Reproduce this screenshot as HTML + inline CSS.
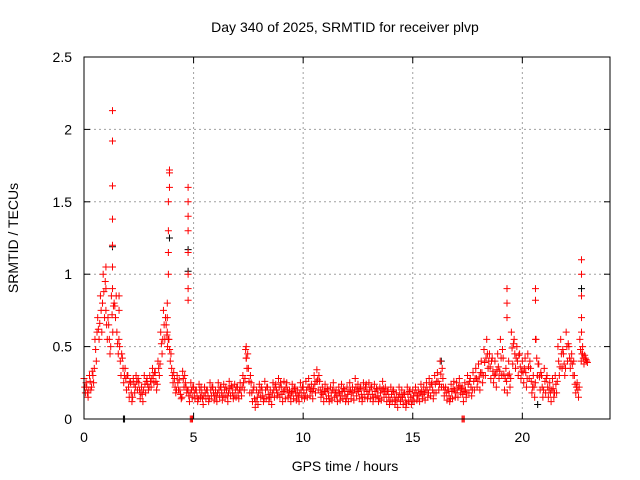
<!DOCTYPE html>
<html><head><meta charset="utf-8"><style>
body{margin:0;background:#fff}
svg{display:block;font-family:"Liberation Sans",sans-serif}
</style></head><body>
<svg id="chart" width="640" height="480">
<text x="345" y="32" font-size="14" text-anchor="middle">Day 340 of 2025, SRMTID for receiver plvp</text>
<text x="345" y="471" font-size="14" text-anchor="middle">GPS time / hours</text>
<text transform="translate(18,238) rotate(-90)" font-size="14" text-anchor="middle">SRMTID / TECUs</text>
<g id="grid"></g><g id="ticks"></g><g id="black"></g><g id="red"></g>
<rect x="84" y="57" width="526" height="362" fill="none" stroke="#000" stroke-width="1"/>
</svg>
<script>
const xTicks=[0,5,10,15,20];
const yTicks=[0,0.5,1,1.5,2,2.5];
const yTickLabels=["0","0.5","1","1.5","2","2.5"];
const step=0.125;
const seriesA=[0.28,0.22,0.30,0.33,0.55,0.70,0.85,1.00,
0.75,0.65,0.85,0.80,0.60,0.50,0.42,0.35,
0.30,0.25,0.28,0.30,0.25,0.22,0.30,0.28,
0.30,0.35,0.32,0.40,0.60,0.75,0.65,0.55,
0.35,0.28,0.30,0.20,0.33,0.25,0.20,0.25,
0.22,0.20,0.24,0.18,0.22,0.20,0.25,0.22,
0.20,0.25,0.22,0.24,0.20,0.26,0.22,0.24,
0.22,0.25,0.30,0.48,0.35,0.25,0.22,0.20,
0.24,0.20,0.26,0.22,0.20,0.25,0.24,0.28,
0.22,0.26,0.25,0.20,0.24,0.22,0.20,0.25,
0.22,0.26,0.28,0.24,0.30,0.34,0.26,0.22,
0.24,0.20,0.22,0.25,0.20,0.22,0.24,0.20,
0.22,0.25,0.22,0.28,0.24,0.22,0.25,0.24,
0.25,0.22,0.24,0.20,0.22,0.26,0.22,0.20,
0.22,0.20,0.18,0.22,0.20,0.18,0.22,0.20,
0.20,0.22,0.20,0.24,0.22,0.25,0.28,0.25,
0.30,0.32,0.40,0.28,0.22,0.20,0.24,0.26,
0.25,0.28,0.22,0.25,0.30,0.28,0.32,0.35,
0.38,0.40,0.48,0.55,0.45,0.42,0.40,0.45,
0.55,0.42,0.35,0.40,0.60,0.55,0.50,0.45,
0.40,0.42,0.45,0.35,0.30,0.55,0.38,0.30,
0.35,0.30,0.25,0.28,0.30,0.50,0.55,0.45,
0.60,0.50,0.45,0.30,0.25,0.55,0.45,0.42];
const seriesB=[0.18,0.15,0.20,0.25,0.40,0.55,0.60,0.70,
0.55,0.45,0.60,0.70,0.45,0.30,0.25,0.20,
0.15,0.12,0.18,0.20,0.14,0.12,0.18,0.20,
0.22,0.25,0.20,0.30,0.45,0.55,0.50,0.40,
0.25,0.18,0.20,0.14,0.22,0.18,0.12,0.15,
0.14,0.12,0.15,0.10,0.14,0.12,0.16,0.13,
0.12,0.15,0.13,0.15,0.12,0.16,0.14,0.15,
0.14,0.16,0.20,0.35,0.18,0.12,0.08,0.10,
0.15,0.12,0.14,0.12,0.10,0.15,0.16,0.15,
0.12,0.14,0.15,0.12,0.14,0.13,0.12,0.15,
0.14,0.15,0.16,0.14,0.18,0.20,0.15,0.12,
0.14,0.12,0.13,0.15,0.12,0.13,0.14,0.12,
0.12,0.14,0.13,0.16,0.14,0.12,0.15,0.14,
0.14,0.12,0.15,0.12,0.13,0.15,0.12,0.10,
0.12,0.10,0.08,0.12,0.10,0.08,0.12,0.10,
0.12,0.13,0.12,0.14,0.13,0.15,0.16,0.14,
0.18,0.20,0.22,0.16,0.13,0.12,0.14,0.15,
0.15,0.18,0.12,0.15,0.18,0.16,0.20,0.22,
0.20,0.25,0.30,0.35,0.28,0.25,0.22,0.28,
0.30,0.20,0.18,0.22,0.38,0.35,0.30,0.28,
0.25,0.22,0.28,0.18,0.15,0.30,0.20,0.15,
0.18,0.15,0.12,0.15,0.18,0.30,0.35,0.30,
0.40,0.35,0.30,0.18,0.15,0.40,0.38,0.40];
const seriesC=[0.22,0.18,0.26,0.30,0.48,0.62,0.75,0.88,
0.65,0.55,0.72,0.78,0.52,0.40,0.35,0.28,
0.22,0.18,0.24,0.26,0.20,0.17,0.24,0.24,
0.26,0.30,0.26,0.35,0.52,0.65,0.58,0.48,
0.30,0.22,0.25,0.17,0.28,0.22,0.16,0.20,
0.18,0.16,0.20,0.14,0.18,0.16,0.20,0.18,
0.16,0.20,0.18,0.20,0.16,0.21,0.18,0.20,
0.18,0.20,0.25,0.42,0.26,0.18,0.14,0.15,
0.20,0.16,0.20,0.17,0.15,0.20,0.20,0.22,
0.17,0.20,0.20,0.16,0.19,0.18,0.16,0.20,
0.18,0.20,0.22,0.19,0.24,0.27,0.20,0.17,
0.19,0.16,0.18,0.20,0.16,0.18,0.19,0.16,
0.17,0.20,0.18,0.22,0.19,0.17,0.20,0.19,
0.20,0.17,0.19,0.16,0.18,0.21,0.17,0.15,
0.17,0.15,0.13,0.17,0.15,0.13,0.17,0.15,
0.16,0.18,0.16,0.19,0.18,0.20,0.22,0.20,
0.24,0.26,0.31,0.22,0.18,0.16,0.19,0.20,
0.20,0.23,0.17,0.20,0.24,0.22,0.26,0.28,
0.29,0.32,0.39,0.45,0.36,0.33,0.31,0.36,
0.42,0.31,0.26,0.31,0.49,0.45,0.40,0.36,
0.32,0.32,0.36,0.26,0.22,0.42,0.29,0.22,
0.26,0.22,0.18,0.21,0.24,0.40,0.45,0.38,
0.50,0.42,0.38,0.24,0.20,0.48,0.42,0.41];
const seriesD=[0.25,0.20,0.22,0.35,0.60,0.66,0.80,0.95,
0.70,0.50,0.78,0.85,0.55,0.45,0.30,0.30,
0.26,0.15,0.22,0.28,0.18,0.20,0.26,0.22,
0.28,0.32,0.24,0.38,0.55,0.70,0.55,0.45,
0.32,0.20,0.27,0.15,0.30,0.20,0.18,0.22,
0.20,0.14,0.22,0.16,0.20,0.14,0.22,0.16,
0.18,0.22,0.16,0.22,0.18,0.23,0.16,0.22,
0.20,0.22,0.28,0.45,0.30,0.20,0.12,0.18,
0.22,0.14,0.22,0.15,0.18,0.22,0.18,0.25,
0.19,0.22,0.18,0.18,0.21,0.16,0.18,0.22,
0.16,0.22,0.20,0.21,0.26,0.30,0.18,0.19,
0.21,0.14,0.20,0.18,0.18,0.16,0.21,0.14,
0.19,0.18,0.20,0.20,0.21,0.15,0.22,0.17,
0.22,0.15,0.21,0.14,0.20,0.19,0.19,0.13,
0.19,0.13,0.15,0.15,0.17,0.11,0.19,0.13,
0.18,0.16,0.18,0.17,0.20,0.18,0.24,0.18,
0.26,0.24,0.35,0.20,0.20,0.14,0.21,0.18,
0.22,0.21,0.19,0.18,0.26,0.20,0.28,0.26,
0.32,0.30,0.42,0.40,0.40,0.30,0.34,0.33,
0.48,0.28,0.30,0.28,0.52,0.42,0.44,0.33,
0.35,0.28,0.40,0.22,0.25,0.38,0.32,0.20,
0.28,0.20,0.20,0.18,0.26,0.36,0.48,0.35,
0.52,0.40,0.40,0.22,0.22,0.45,0.44,0.39];
const spikeTimes=[1.3,1.3,1.3,1.3,1.3,1.3,1.3,1.0,1.0,1.6,1.6,
3.8,3.8,3.8,3.85,3.85,3.85,3.85,3.9,3.9,3.9,
4.75,4.75,4.75,4.75,4.75,4.75,4.75,4.75,
7.4,7.4,19.3,19.3,19.3,20.6,20.6,20.6,
22.7,22.7,22.7,22.7,22.7,22.75,4.85,4.9,4.95,17.25,17.3,17.35];
const spikeValues=[0.9,1.05,1.2,1.38,1.61,1.92,2.13,0.9,1.05,0.75,0.85,
0.6,0.7,0.8,1.0,1.15,1.3,1.5,1.6,1.7,1.72,
0.82,0.9,1.0,1.15,1.3,1.4,1.5,1.6,
0.42,0.5,0.7,0.8,0.9,0.55,0.82,0.9,
0.6,0.7,0.85,1.0,1.1,0.5,0,0,0,0,0,0];
const blackTimes=[1.3,1.3,4.75,4.75,16.3,20.7,1.8,1.85,22.7,3.9];
const blackValues=[1.92,1.19,1.02,1.17,0.4,0.1,0,0,0.9,1.25];
const NS="http://www.w3.org/2000/svg";
const X=t=>84+t*(526/24), Y=v=>419-v*144.8;
const grid=document.getElementById('grid'),ticks=document.getElementById('ticks');
function mk(tag,attrs,parent){const e=document.createElementNS(NS,tag);for(const k in attrs)e.setAttribute(k,attrs[k]);parent.appendChild(e);return e;}
xTicks.forEach(t=>{const x=X(t);
 if(t>0){const g=mk('line',{x1:x,x2:x,y1:57,y2:419,stroke:'#a0a0a0','stroke-dasharray':'2,3'},grid);
 
 }
 mk('line',{x1:x,x2:x,y1:419,y2:413,stroke:'#000'},ticks);
 mk('line',{x1:x,x2:x,y1:57,y2:63,stroke:'#000'},ticks);
 const l=mk('text',{x:x,y:442,'font-size':14,'text-anchor':'middle'},ticks);l.textContent=t;
 
 
});
yTicks.forEach((v,i)=>{const y=Y(v);
 if(v>0&&v<2.5){const g=mk('line',{x1:84,x2:610,y1:y,y2:y,stroke:'#a0a0a0','stroke-dasharray':'2,3'},grid);
 
 }
 mk('line',{x1:84,x2:90,y1:y,y2:y,stroke:'#000'},ticks);
 mk('line',{x1:604,x2:610,y1:y,y2:y,stroke:'#000'},ticks);
 const l=mk('text',{x:72,y:y+5,'font-size':14,'text-anchor':'end'},ticks);l.textContent=yTickLabels[i];
 
 
});
function plus(t,v,col,parent,name){const x=X(t),y=Y(v);
 const p=mk('path',{d:`M${x-3.5},${y}h7M${x},${y-3.5}v7`,stroke:col,'stroke-width':1,fill:'none'},parent);
 
 }
const blk=document.getElementById('black'),red=document.getElementById('red');
blackTimes.forEach((t,i)=>plus(t,blackValues[i],'#000',blk,'black-point'));
seriesA.forEach((v,i)=>plus(i*step,v,'#f00',red,'red-point'));
seriesB.forEach((v,i)=>plus(i*step+step/2,v,'#f00',red,'red-point'));
seriesC.forEach((v,i)=>plus(i*step+step/4,v,'#f00',red,'red-point'));
seriesD.forEach((v,i)=>plus(i*step+3*step/4,v,'#f00',red,'red-point'));
spikeTimes.forEach((t,i)=>plus(t,spikeValues[i],'#f00',red,'red-point'));
</script>
</body></html>
